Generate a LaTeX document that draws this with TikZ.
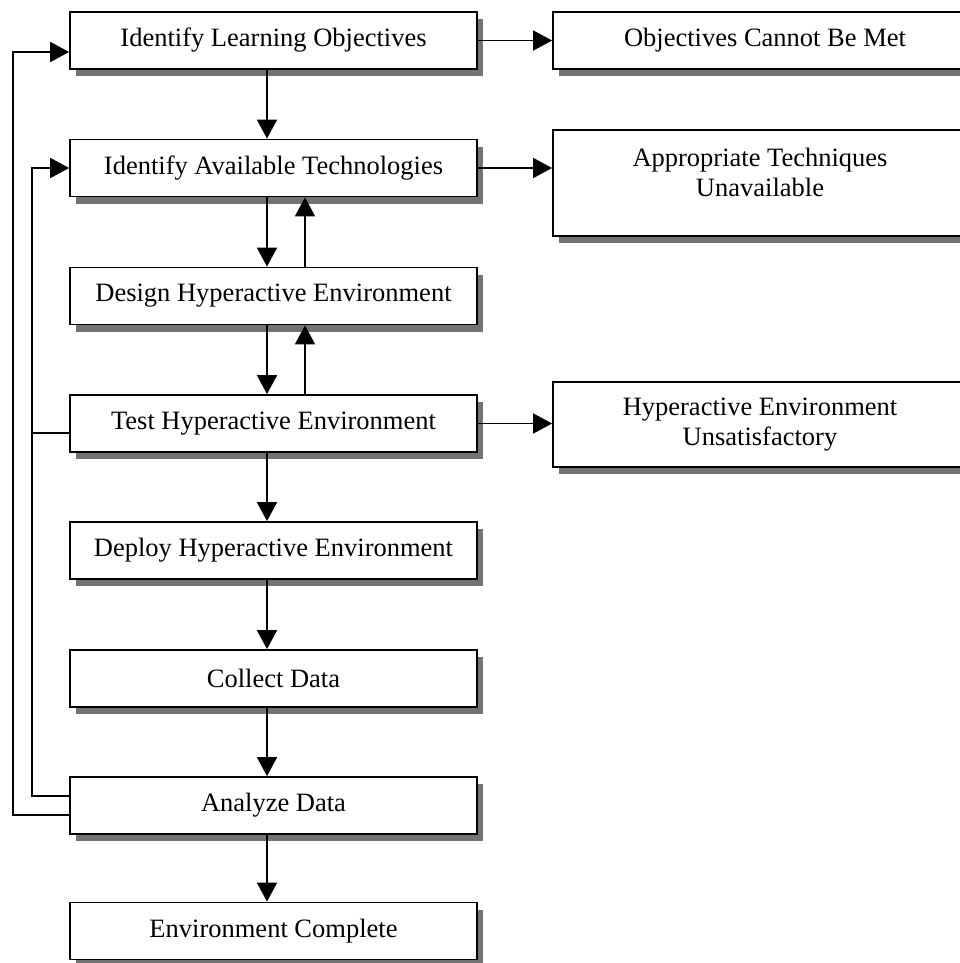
\documentclass[tikz,border=0pt]{standalone}
\usepackage{fontspec}
\setmainfont{Liberation Serif}
\usetikzlibrary{arrows.meta,shadows}
\begin{document}
\begin{tikzpicture}[x=1pt,y=-1pt,
  every node/.style={font=\fontsize{26.5}{30}\selectfont},
  box/.style={draw, line width=1.8pt, fill=white, inner sep=0pt, align=center,
    drop shadow={shadow xshift=6pt, shadow yshift=-7pt, fill=black!55, opacity=1}},
  stepbox/.style={box, minimum width=407pt, minimum height=57pt},
  sidebox/.style={box, minimum width=414pt},
  plain/.style={draw=none, fill=none, inner sep=0pt, align=center},
  conn/.style={line width=1.8pt},
  arr/.style={conn, -{Triangle[length=19pt,width=20pt]}}]
\useasboundingbox (0,0) rectangle (960,963);
\fill[white] (0,0) rectangle (960,963);
\clip (0,0) rectangle (960,963);

% main column
\node[stepbox] (b1) at (273.5,40.5) {Identify Learning Objectives};
\node[stepbox] (b2) at (273.5,168) {Identify Available Technologies};
\node[stepbox] (b3) at (273.5,296) {Design Hyperactive Environment};
\node[stepbox] (b4) at (273.5,423.5) {Test Hyperactive Environment};
\node[stepbox] (b5) at (273.5,550.5) {Deploy Hyperactive Environment};
\node[stepbox] (b6) at (273.5,678.5) {Collect Data};
\node[stepbox] (b7) at (273.5,805.5) {Analyze Data};
\node[stepbox] (b8) at (273.5,931) {Environment Complete};

% failure outcomes on the right
\node[box, minimum width=424pt, minimum height=57pt] (r1) at (765,40.5) {Objectives Cannot Be Met};
\node[sidebox, minimum height=106pt] (r2) at (760,183) {};
\node[plain] (r2text) at (760,172) {Appropriate Techniques\\Unavailable};
\node[sidebox, minimum height=85pt] (r3) at (760,424.5) {Hyperactive Environment\\Unsatisfactory};

% columns used by the vertical connectors
\coordinate (down) at (267,0);
\coordinate (up) at (305,0);
\coordinate (outer) at (13,0);
\coordinate (inner) at (32,0);

% forward flow
\draw[arr] (b1.south -| down) -- (b2.north -| down);
\draw[arr] (b2.south -| down) -- (b3.north -| down);
\draw[arr] (b3.south -| down) -- (b4.north -| down);
\draw[arr] (b4.south -| down) -- (b5.north -| down);
\draw[arr] (b5.south -| down) -- (b6.north -| down);
\draw[arr] (b6.south -| down) -- (b7.north -| down);
\draw[arr] (b7.south -| down) -- (b8.north -| down);

% iteration back up
\draw[arr] (b3.north -| up) -- (b2.south -| up);
\draw[arr] (b4.north -| up) -- (b3.south -| up);

% exits to the right
\draw[arr] (b1.east) -- (b1.east -| r1.west);
\draw[arr] (b2.east) -- (b2.east -| r2.west);
\draw[arr] (b4.east) -- (b4.east -| r3.west);

% feedback loops on the left
\coordinate (e1) at ([yshift=-11.5pt]b1.west);
\coordinate (a7o) at ([yshift=-9.5pt]b7.west);
\coordinate (a7i) at ([yshift=9.5pt]b7.west);
\coordinate (t4) at ([yshift=-9.5pt]b4.west);
\draw[arr] (a7o) -| (outer |- e1) -- (e1);
\draw[arr] (a7i) -| (inner |- b2.west) -- (b2.west);
\draw[conn] (t4) -- (t4 -| inner);
\end{tikzpicture}
\end{document}
